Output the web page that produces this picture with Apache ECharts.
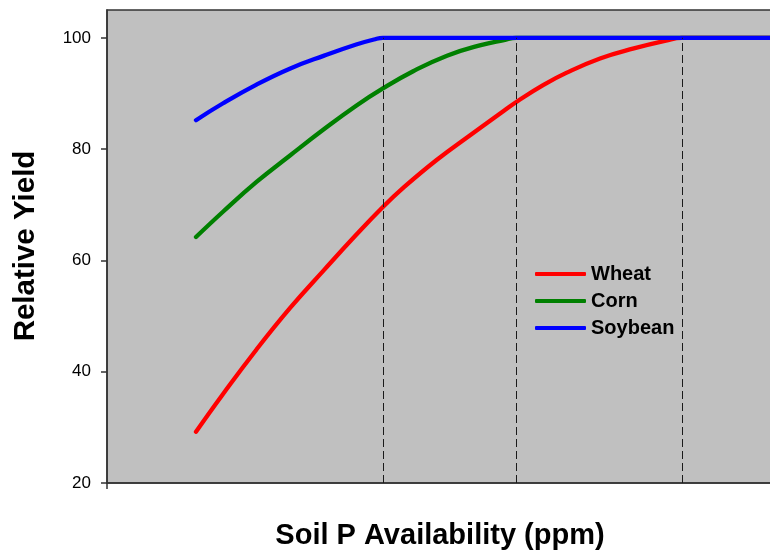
<!DOCTYPE html>
<html>
<head>
<meta charset="utf-8">
<script src="https://cdn.jsdelivr.net/npm/echarts/dist/echarts.min.js"></script>
<style>
html,body{margin:0;padding:0;background:#ffffff;overflow:hidden;}
#chart{width:770px;height:550px;}
</style>
</head>
<body>
<div id="chart"></div>
<script>
// ---- data ----
const seriesNames = ['Wheat', 'Corn', 'Soybean'];
const wheat = [[5.0,29.2],[6.5,35.9],[8.4,44.0],[10.3,51.5],[12.2,58.3],[14.0,64.6],[15.5,69.6],[16.7,73.2],[18.5,78.0],[20.4,82.5],[22.3,86.9],[23.1,88.7],[24.5,91.5],[25.8,93.7],[27.7,96.3],[29.6,98.1],[31.4,99.5],[32.3,100],[40,100]];
const corn = [[5.0,64.2],[6.5,68.7],[8.4,74.1],[10.3,78.9],[12.2,83.6],[14.0,87.8],[15.5,90.9],[17.2,94.0],[19.1,96.8],[21.0,98.7],[22.3,99.6],[23.0,100],[40,100]];
const soybean = [[5.0,85.2],[6.5,88.2],[8.4,91.6],[10.3,94.5],[12.2,96.8],[14.0,98.8],[15.0,99.7],[15.5,100],[40,100]];
const thresholds = [15.5, 23.0, 32.3];   // critical P levels (dashed lines)
const yRange = [20, 105];
const yTicks = [20, 40, 60, 80, 100];
const xRange = [0, 40];
const xTitle = 'Soil P Availability (ppm)';
const yTitle = 'Relative Yield';
const colors = ['#FF0000', '#008000', '#0000FF'];

const FONT = 'Liberation Sans, Arial, Helvetica, sans-serif';
const chart = echarts.init(document.getElementById('chart'), null, {renderer: 'canvas'});

const seriesData = [wheat, corn, soybean];
const series = seriesData.map((d, i) => ({
  name: seriesNames[i],
  type: 'line',
  data: d,
  smooth: 0.45,
  showSymbol: false,
  symbol: 'none',
  lineStyle: {color: colors[i], width: 4.3, cap: 'round', join: 'round'},
  itemStyle: {color: colors[i]},
  z: 2 + i
}));

series.push({
  name: 'thresholds',
  type: 'line',
  data: [],
  z: 10,
  markLine: {
    silent: true,
    symbol: ['none', 'none'],
    label: {show: false},
    lineStyle: {color: '#1a1a1a', type: [8, 4], width: 1},
    data: thresholds.map(x => [{coord: [x, yRange[0]]}, {coord: [x, 100]}])
  }
});

chart.setOption({
  animation: false,
  backgroundColor: '#ffffff',
  grid: {
    left: 107, top: 10, width: 712, height: 473,
    outerBoundsMode: 'none', containLabel: false,
    show: true, backgroundColor: '#C0C0C0', borderColor: '#333333', borderWidth: 1.5
  },
  legend: {
    data: seriesNames,
    orient: 'vertical',
    left: 530, top: 259,
    icon: 'roundRect',
    itemWidth: 51, itemHeight: 4,
    itemGap: 7,
    textStyle: {fontFamily: FONT, fontWeight: 'bold', fontSize: 20, color: '#000'},
    selectedMode: false
  },
  xAxis: {
    type: 'value',
    min: xRange[0], max: xRange[1], interval: 40,
    axisLine: {show: true, onZero: false, lineStyle: {color: '#333333', width: 1.5}},
    axisTick: {show: true, length: 6, lineStyle: {color: '#333333', width: 1.5}},
    axisLabel: {show: false},
    splitLine: {show: false}
  },
  yAxis: {
    type: 'value',
    min: yRange[0], max: yRange[1], interval: 20,
    axisLine: {show: true, lineStyle: {color: '#333333', width: 1.5}},
    axisTick: {show: true, length: 6, customValues: yTicks, lineStyle: {color: '#333333', width: 1.5}},
    axisLabel: {
      margin: 16, fontFamily: FONT, fontSize: 17, color: '#000',
      customValues: yTicks
    },
    splitLine: {show: false}
  },
  graphic: [
    {
      type: 'text', x: 440, y: 536,
      style: {text: xTitle, x: 0, y: 0, textAlign: 'center', textVerticalAlign: 'middle',
        fontFamily: FONT, fontWeight: 'bold', fontSize: 29, fill: '#000'}
    },
    {
      type: 'text', x: 26, y: 246, rotation: Math.PI / 2,
      style: {text: yTitle, x: 0, y: 0, textAlign: 'center', textVerticalAlign: 'middle',
        fontFamily: FONT, fontWeight: 'bold', fontSize: 29.5, fill: '#000'}
    }
  ],
  series: series
});
</script>
</body>
</html>
